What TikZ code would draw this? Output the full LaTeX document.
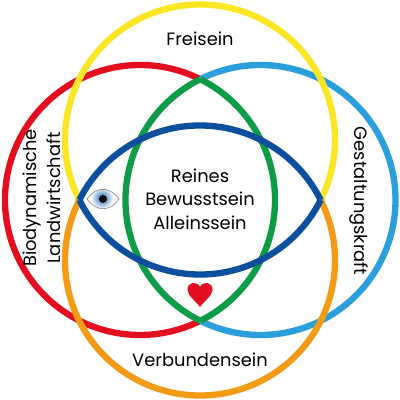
\documentclass[tikz,border=0pt]{standalone}
\usepackage{xcolor}
\usepackage{fontspec}
\setmainfont{Poppins}
\usetikzlibrary{arrows.meta}
\definecolor{ringred}{HTML}{E30F20}
\definecolor{ringsky}{HTML}{2A9FDC}
\definecolor{ringgreen}{HTML}{0D9C46}
\definecolor{ringyellow}{HTML}{FBE626}
\definecolor{ringorange}{HTML}{F39A17}
\definecolor{ringblue}{HTML}{0B4F9E}
\tikzset{ring/.style={line width=4.5pt},
  lbl/.style={font=\fontsize{12.7}{16.8}\selectfont,align=center,text=black,inner sep=0pt}}
\begin{document}
\begin{tikzpicture}[x=0.025cm,y=0.025cm]
  \useasboundingbox (-200,-200) rectangle (200,200);
  % side circles
  \draw[ring,ringred] (-60,0) ++(63.6:135) arc (63.6:296.4:135);
  \draw[ring,ringsky] (60.5,0) ++(116.4:135) arc (116.4:-116.4:135);
  \draw[ring,ringgreen] (-60,0) ++(-63.6:135) arc (-63.6:63.6:135);
  \draw[ring,ringgreen] (60.5,0) ++(116.4:135) arc (116.4:243.6:135);
  % upper and lower circles
  \draw[ring,ringyellow] (0,60.5) ++(-26.6:135) arc (-26.6:206.6:135);
  \draw[ring,ringorange] (0,-60.5) ++(26.6:135) arc (26.6:-206.6:135);
  \draw[ring,ringblue] (0,60.5) ++(206.6:135) arc (206.6:333.4:135);
  \draw[ring,ringblue] (0,-60.5) ++(26.6:135) arc (26.6:153.4:135);
  % labels
  \node[lbl] (freisein) at (0,161) {Freisein};
  \node[lbl] (verbunden) at (0,-160) {Verbundensein};
  \node[lbl] (mitte) at (0,1) {Reines\\Bewusstsein\\Alleinssein};
  \node[lbl,rotate=90] (biodyn) at (-158,2) {Biodynamische\\Landwirtschaft};
  \node[lbl,rotate=-90] (gestalt) at (159,-1) {Gestaltungskraft};
  % eye
  \begin{scope}[shift={(-97,1)}]
    \begin{scope}
      \clip (-16,0) .. controls (-7,13) and (7,13) .. (16,0) .. controls (7,-13) and (-7,-13) .. (-16,0);
      \shade[inner color=ringblue!70!ringsky,outer color=white] (-1,1) circle (11);
    \end{scope}
    \draw[gray,line width=0.4pt] (-16,0) .. controls (-7,13) and (7,13) .. (16,0) .. controls (7,-13) and (-7,-13) .. (-16,0);
    \fill[black] (0,0) circle (4);
  \end{scope}
  % heart
  \fill[ringred] (0,-107) .. controls (-4,-101) and (-12.5,-96) .. (-12.5,-89.5) .. controls (-12.5,-82) and (-3,-80.5) .. (0,-87) .. controls (3,-80.5) and (12.5,-82) .. (12.5,-89.5) .. controls (12.5,-96) and (4,-101) .. (0,-107);
\end{tikzpicture}
\end{document}
